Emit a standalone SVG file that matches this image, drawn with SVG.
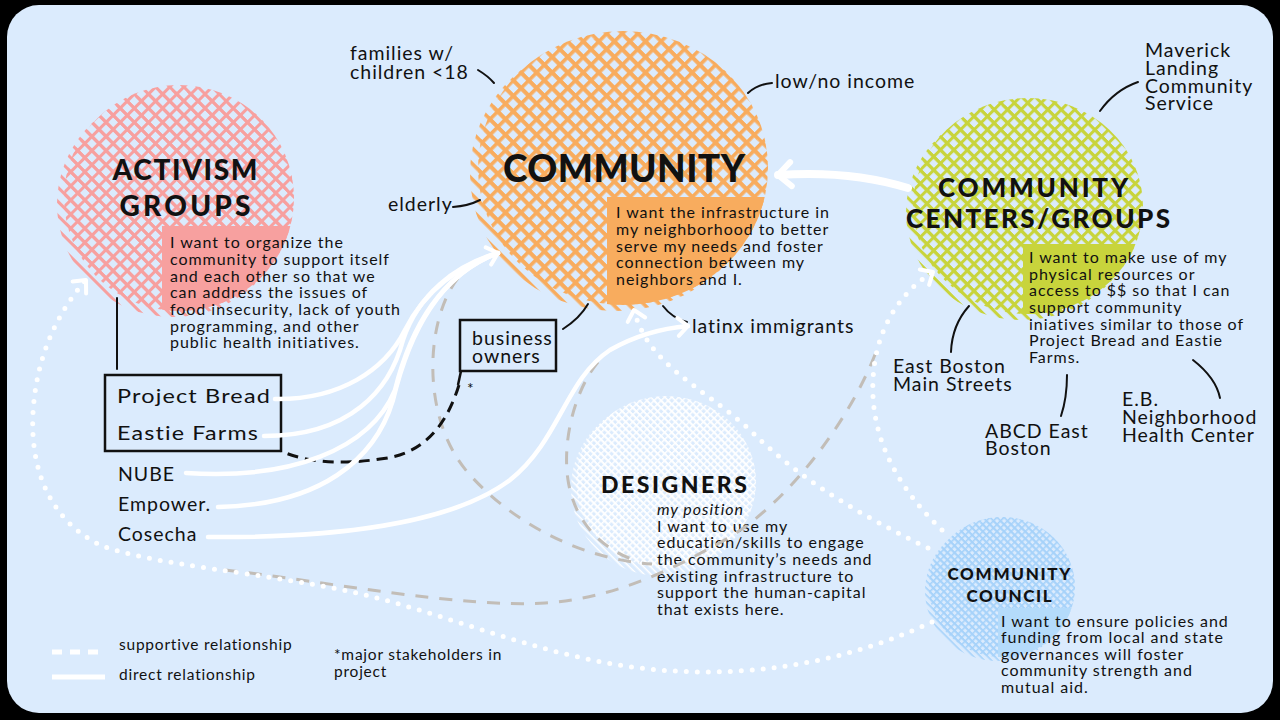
<svg xmlns="http://www.w3.org/2000/svg" width="1280" height="720" viewBox="0 0 1280 720">
<style>
.title{font-family:Lato,"Liberation Sans",sans-serif;font-weight:900;fill:#111;}
.body{font-family:Lato,"Liberation Sans",sans-serif;font-size:16px;letter-spacing:0.06em;fill:#111;}
.lab{font-family:Lato,"Liberation Sans",sans-serif;font-size:19.5px;letter-spacing:0.05em;fill:#111;}
.leg{font-family:Lato,"Liberation Sans",sans-serif;font-size:15.5px;letter-spacing:0.05em;fill:#111;}
.leader{fill:none;stroke:#111;stroke-width:2;stroke-linecap:round;}
.direct{fill:none;stroke:#fff;stroke-width:4.5;stroke-linecap:round;}
.dots{fill:none;stroke:#fff;stroke-width:5;stroke-linecap:round;stroke-dasharray:0 11;}
.grey{fill:none;stroke:#c2bdb7;stroke-width:3;stroke-dasharray:13 11;}
</style>
<defs>
<pattern id="hOrange" patternUnits="userSpaceOnUse" width="11" height="11" patternTransform="rotate(45)"><rect width="11" height="3.6" fill="#f8ac5e"/><rect width="3.6" height="11" fill="#f8ac5e"/></pattern>
<pattern id="sOrange" patternUnits="userSpaceOnUse" width="11" height="11" patternTransform="rotate(45)"><rect width="11" height="3.6" fill="#f8ac5e"/></pattern>
<pattern id="hPink" patternUnits="userSpaceOnUse" width="10" height="10" patternTransform="rotate(45)"><rect width="10" height="3" fill="#f7a09f"/><rect width="3" height="10" fill="#f7a09f"/></pattern>
<pattern id="sPink" patternUnits="userSpaceOnUse" width="10" height="10" patternTransform="rotate(45)"><rect width="10" height="3" fill="#f7a09f"/></pattern>
<pattern id="hYellow" patternUnits="userSpaceOnUse" width="9.5" height="9.5" patternTransform="rotate(45)"><rect width="9.5" height="3" fill="#c8d43c"/><rect width="3" height="9.5" fill="#c8d43c"/></pattern>
<pattern id="sYellow" patternUnits="userSpaceOnUse" width="9.5" height="9.5" patternTransform="rotate(45)"><rect width="9.5" height="3" fill="#c8d43c"/></pattern>
<pattern id="hWhite" patternUnits="userSpaceOnUse" width="5" height="5" patternTransform="rotate(45)"><rect width="5" height="1.5" fill="#fff"/><rect width="1.5" height="5" fill="#fff"/></pattern>
<pattern id="sWhite" patternUnits="userSpaceOnUse" width="5" height="5" patternTransform="rotate(45)"><rect width="5" height="1.5" fill="#fff"/></pattern>
<pattern id="hBlue" patternUnits="userSpaceOnUse" width="5" height="5" patternTransform="rotate(45)"><rect width="5" height="1.6" fill="#a6d2fa"/><rect width="1.6" height="5" fill="#a6d2fa"/></pattern>
<pattern id="sBlue" patternUnits="userSpaceOnUse" width="5" height="5" patternTransform="rotate(45)"><rect width="5" height="1.6" fill="#a6d2fa"/></pattern>
<clipPath id="cAct"><ellipse cx="179" cy="198" rx="115" ry="113"/></clipPath>
<clipPath id="cCom"><ellipse cx="623" cy="168" rx="145" ry="137"/></clipPath>
<clipPath id="cCC"><ellipse cx="1028" cy="206" rx="115" ry="108"/></clipPath>
<clipPath id="cCou"><ellipse cx="1002" cy="587" rx="73" ry="70"/></clipPath>
<marker id="chev" markerUnits="userSpaceOnUse" viewBox="-16 -16 32 32" markerWidth="32" markerHeight="32" refX="0" refY="0" orient="auto"><path d="M-10,-9 L0,0 L-10,9" fill="none" stroke="#fff" stroke-width="4" stroke-linecap="round" stroke-linejoin="round"/></marker>
<marker id="chevBig" markerUnits="userSpaceOnUse" viewBox="-20 -20 40 40" markerWidth="40" markerHeight="40" refX="0" refY="0" orient="auto"><path d="M-13,-12 L0,0 L-13,12" fill="none" stroke="#fff" stroke-width="6" stroke-linecap="round" stroke-linejoin="round"/></marker>
</defs>

<rect x="0" y="0" width="1280" height="720" fill="#000"/>
<rect x="7" y="5" width="1266" height="708" rx="32" fill="#dbebfd"/>

<g id="activism">
<ellipse cx="173" cy="204" rx="116" ry="113" fill="url(#sPink)"/>
<ellipse cx="179" cy="198" rx="115" ry="113" fill="url(#hPink)"/>
<rect x="162" y="226" width="140" height="100" fill="#f7a09f" clip-path="url(#cAct)"/>
<text class="title" x="185" y="180" font-size="28" text-anchor="middle" textLength="145" lengthAdjust="spacing">ACTIVISM</text>
<text class="title" x="185" y="216" font-size="28" text-anchor="middle" textLength="131" lengthAdjust="spacing">GROUPS</text>
<text class="body" x="170" y="248">I want to organize the</text>
<text class="body" x="170" y="265">community to support itself</text>
<text class="body" x="170" y="282">and each other so that we</text>
<text class="body" x="170" y="298">can address the issues of</text>
<text class="body" x="170" y="315">food insecurity, lack of youth</text>
<text class="body" x="170" y="332">programming, and other</text>
<text class="body" x="170" y="348">public health initiatives.</text>
</g>

<g id="community">
<ellipse cx="616" cy="174" rx="146" ry="137" fill="url(#sOrange)"/>
<ellipse cx="623" cy="168" rx="145" ry="137" fill="url(#hOrange)"/>
<rect x="607" y="197" width="170" height="120" fill="#f8ac5e" clip-path="url(#cCom)"/>
<text class="title" x="624" y="182" font-size="37" text-anchor="middle" textLength="242" lengthAdjust="spacing">COMMUNITY</text>
<text class="body" x="616" y="218">I want the infrastructure in</text>
<text class="body" x="616" y="235">my neighborhood to better</text>
<text class="body" x="616" y="252">serve my needs and foster</text>
<text class="body" x="616" y="268">connection between my</text>
<text class="body" x="616" y="285">neighbors and I.</text>
<text class="lab" x="350" y="60">families w/</text>
<text class="lab" x="350" y="79">children &lt;18</text>
<path class="leader" d="M478,70 Q488,76 494,83"/>
<text class="lab" x="775" y="88">low/no income</text>
<path class="leader" d="M748,93 Q758,84 772,83"/>
<text class="lab" x="388" y="211">elderly</text>
<path class="leader" d="M453,207 Q468,206 480,200"/>
<text class="lab" x="692" y="333">latinx immigrants</text>
<path class="leader" d="M663,306 Q672,318 687,322"/>
</g>

<g id="business-owners">
<rect x="460" y="320" width="96" height="51" fill="none" stroke="#111" stroke-width="2.5"/>
<text class="lab" x="472" y="345">business</text>
<text class="lab" x="472" y="363">owners</text>
<path class="leader" d="M563,329 Q580,318 588,304"/>
<path d="M461,371 L458,385" fill="none" stroke="#111" stroke-width="2.5"/>
<text class="leg" x="467" y="394" font-size="14">*</text>
</g>

<g id="project-box">
<rect x="105" y="375" width="176" height="76" fill="none" stroke="#111" stroke-width="2.5"/>
<text class="lab" x="117" y="403" font-size="26" textLength="154" lengthAdjust="spacingAndGlyphs">Project Bread</text>
<text class="lab" x="117" y="440" font-size="26" textLength="142" lengthAdjust="spacingAndGlyphs">Eastie Farms</text>
<path class="leader" d="M117,298 L117,369"/>
</g>

<g id="groups-list">
<text class="lab" x="118" y="481" font-size="20">NUBE</text>
<text class="lab" x="118" y="511" font-size="20">Empower.</text>
<text class="lab" x="118" y="541" font-size="20">Cosecha</text>
</g>

<g id="community-centers">
<ellipse cx="1022" cy="212" rx="116" ry="108" fill="url(#sYellow)"/>
<ellipse cx="1028" cy="206" rx="115" ry="108" fill="url(#hYellow)"/>
<rect x="1023" y="244" width="130" height="80" fill="#c8d43c" clip-path="url(#cCC)"/>
<text class="title" x="1033" y="197" font-size="26" text-anchor="middle" textLength="190" lengthAdjust="spacing">COMMUNITY</text>
<text class="title" x="1038" y="228" font-size="26" text-anchor="middle" textLength="264" lengthAdjust="spacing">CENTERS/GROUPS</text>
<text class="body" x="1029" y="263">I want to make use of my</text>
<text class="body" x="1029" y="280">physical resources or</text>
<text class="body" x="1029" y="296">access to $$ so that I can</text>
<text class="body" x="1029" y="313">support community</text>
<text class="body" x="1029" y="330">iniatives similar to those of</text>
<text class="body" x="1029" y="346">Project Bread and Eastie</text>
<text class="body" x="1029" y="363">Farms.</text>
<text class="lab" x="1145" y="57">Maverick</text>
<text class="lab" x="1145" y="75">Landing</text>
<text class="lab" x="1145" y="93">Community</text>
<text class="lab" x="1145" y="110">Service</text>
<path class="leader" d="M1100,111 Q1115,90 1138,82"/>
<text class="lab" x="893" y="373">East Boston</text>
<text class="lab" x="893" y="391">Main Streets</text>
<path class="leader" d="M969,306 Q952,325 951,352"/>
<text class="lab" x="985" y="438">ABCD East</text>
<text class="lab" x="985" y="455">Boston</text>
<path class="leader" d="M1067,375 Q1067,398 1061,416"/>
<text class="lab" x="1122" y="406">E.B.</text>
<text class="lab" x="1122" y="424">Neighborhood</text>
<text class="lab" x="1122" y="442">Health Center</text>
<path class="leader" d="M1193,360 Q1216,378 1220,398"/>
</g>

<g id="designers">
<ellipse cx="661" cy="488" rx="90" ry="88" fill="url(#sWhite)"/>
<ellipse cx="666" cy="482" rx="90" ry="86" fill="url(#hWhite)"/>
<text class="title" x="674" y="493" font-size="23" text-anchor="middle" textLength="146" lengthAdjust="spacing">DESIGNERS</text>
<text class="body" x="657" y="515" font-style="italic">my position</text>
<text class="body" x="657" y="532">I want to use my</text>
<text class="body" x="657" y="548">education/skills to engage</text>
<text class="body" x="657" y="565">the community’s needs and</text>
<text class="body" x="657" y="582">existing infrastructure to</text>
<text class="body" x="657" y="598">support the human-capital</text>
<text class="body" x="657" y="615">that exists here.</text>
</g>

<g id="community-council">
<ellipse cx="998" cy="591" rx="73" ry="70" fill="url(#sBlue)"/>
<ellipse cx="1002" cy="587" rx="73" ry="70" fill="url(#hBlue)"/>
<rect x="998" y="608" width="80" height="60" fill="#b4dbfb" clip-path="url(#cCou)"/>
<text class="title" x="1009" y="580" font-size="17" text-anchor="middle" textLength="123" lengthAdjust="spacing">COMMUNITY</text>
<text class="title" x="1009" y="602" font-size="17" text-anchor="middle" textLength="85" lengthAdjust="spacing">COUNCIL</text>
<text class="body" x="1001" y="627">I want to ensure policies and</text>
<text class="body" x="1001" y="643">funding from local and state</text>
<text class="body" x="1001" y="660">governances will foster</text>
<text class="body" x="1001" y="676">community strength and</text>
<text class="body" x="1001" y="693">mutual aid.</text>
</g>

<g id="connectors">
<path class="grey" d="M458,278 C 425,320 420,420 470,475 C 520,530 590,560 652,564"/>
<path class="grey" d="M598,362 C 575,390 562,440 568,480 C 574,520 600,550 640,562"/>
<path class="grey" d="M225,570 C 330,582 460,608 545,603 C 620,598 680,565 730,537 C 790,500 850,420 876,352"/>
<path d="M459,385 C 445,430 420,455 380,459 C 340,465 305,462 281,451" fill="none" stroke="#111" stroke-width="3" stroke-dasharray="11 7"/>
<path class="direct" d="M275,399 C 340,400 385,370 405,330 C 425,290 460,265 498,253" marker-end="url(#chev)"/>
<path class="direct" d="M264,436 C 350,436 390,390 403,340 C 418,295 455,265 498,253"/>
<path class="direct" d="M186,473 C 290,480 370,450 395,390 C 410,330 440,275 498,253"/>
<path class="direct" d="M218,507 C 320,505 375,460 393,400 C 410,330 440,275 498,253"/>
<path class="direct" d="M208,537 C 330,538 450,525 510,480 C 560,440 565,380 610,350 C 640,333 665,328 688,326" marker-end="url(#chev)"/>
<path d="M908,188 Q 850,170 778,175" fill="none" stroke="#fff" stroke-width="8" stroke-linecap="round" marker-end="url(#chevBig)"/>
<path class="dots" d="M932,622 C 840,665 740,680 640,668 C 540,656 450,615 357,593 C 260,572 150,565 100,545 C 50,520 30,470 33,413 C 36,360 55,315 86,280" marker-end="url(#chev)"/>
<path class="dots" d="M928,548 C 860,515 800,480 750,430 C 700,385 648,365 634,310" marker-end="url(#chev)"/>
<path class="dots" d="M942,530 C 900,490 870,440 873,380 C 875,330 900,292 933,272" marker-end="url(#chev)"/>
</g>

<g id="legend">
<path d="M52,652 L102,652" fill="none" stroke="#fff" stroke-width="5" stroke-dasharray="10 8"/>
<path d="M52,677 L105,677" fill="none" stroke="#fff" stroke-width="5"/>
<text class="leg" x="119" y="650">supportive relationship</text>
<text class="leg" x="119" y="680">direct relationship</text>
<text class="leg" x="334" y="660" font-size="16">*major stakeholders in</text>
<text class="leg" x="334" y="677" font-size="16">project</text>
</g>
</svg>
